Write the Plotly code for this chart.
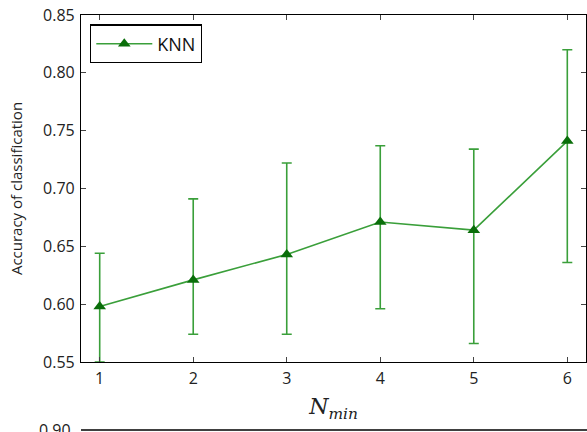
import plotly.graph_objects as go

n_min = [1, 2, 3, 4, 5, 6]
accuracy = [0.598, 0.621, 0.643, 0.671, 0.664, 0.741]
err_plus = [0.046, 0.070, 0.079, 0.066, 0.070, 0.079]
err_minus = [0.048, 0.047, 0.069, 0.075, 0.098, 0.105]
y_ticks = [0.55, 0.60, 0.65, 0.70, 0.75, 0.80, 0.85]
x_ticks = [1, 2, 3, 4, 5, 6]

line_green = "#3a9f3a"
marker_green = "#0a6e0a"
tick_font = dict(family="Open Sans", size=16, color="#222")

fig = go.Figure()
fig.add_trace(go.Scatter(
    x=n_min, y=accuracy, mode="lines+markers", name="KNN",
    line=dict(color=line_green, width=1.6),
    marker=dict(symbol="triangle-up", size=11, color=marker_green,
                line=dict(color=marker_green, width=0)),
    error_y=dict(type="data", symmetric=False, array=err_plus, arrayminus=err_minus,
                 color=line_green, thickness=1.6, width=5),
))

axis_common = dict(
    showline=True, linecolor="black", linewidth=1.2, mirror="ticks",
    ticks="inside", ticklen=5, tickcolor="#444", showgrid=False, zeroline=False,
    tickfont=tick_font, automargin=False,
)
fig.update_xaxes(range=[0.8, 6.2], tickvals=x_ticks, ticktext=[str(v) for v in x_ticks],
                 title=dict(text="<i>N</i><sub><i>min</i></sub>",
                            font=dict(family="DejaVu Serif", size=22, color="#222"),
                            standoff=10),
                 ticklabelstandoff=2,
                 **axis_common)
fig.update_yaxes(range=[0.55, 0.85], tickvals=y_ticks,
                 ticktext=[f"{v:.2f}" for v in y_ticks],
                 title=dict(text="Accuracy of classification",
                            font=dict(family="Open Sans", size=15, color="#222"),
                            standoff=16),
                 ticklabelstandoff=2,
                 **axis_common)

fig.update_layout(
    width=587, height=432,
    margin=dict(l=81, r=1, t=15, b=70),
    plot_bgcolor="white", paper_bgcolor="white",
    showlegend=True,
    legend=dict(x=0.018, y=0.973, xanchor="left", yanchor="top",
                bordercolor="black", borderwidth=1.2, bgcolor="white",
                itemwidth=56,
                font=dict(family="Open Sans", size=18, color="#111")),
)

# top edge of next (cropped) subplot
fig.add_shape(type="line", xref="paper", yref="paper", x0=0, x1=1.01,
              y0=-0.196, y1=-0.196, line=dict(color="black", width=1.5))
fig.add_annotation(text="0.90", xref="paper", yref="paper", x=-0.016, y=-0.196,
                   xanchor="right", yanchor="middle", showarrow=False,
                   font=tick_font)

fig.write_html("out.html", config={"displayModeBar": False},
               post_script="document.body.style.margin='0';document.body.style.overflow='hidden';")
